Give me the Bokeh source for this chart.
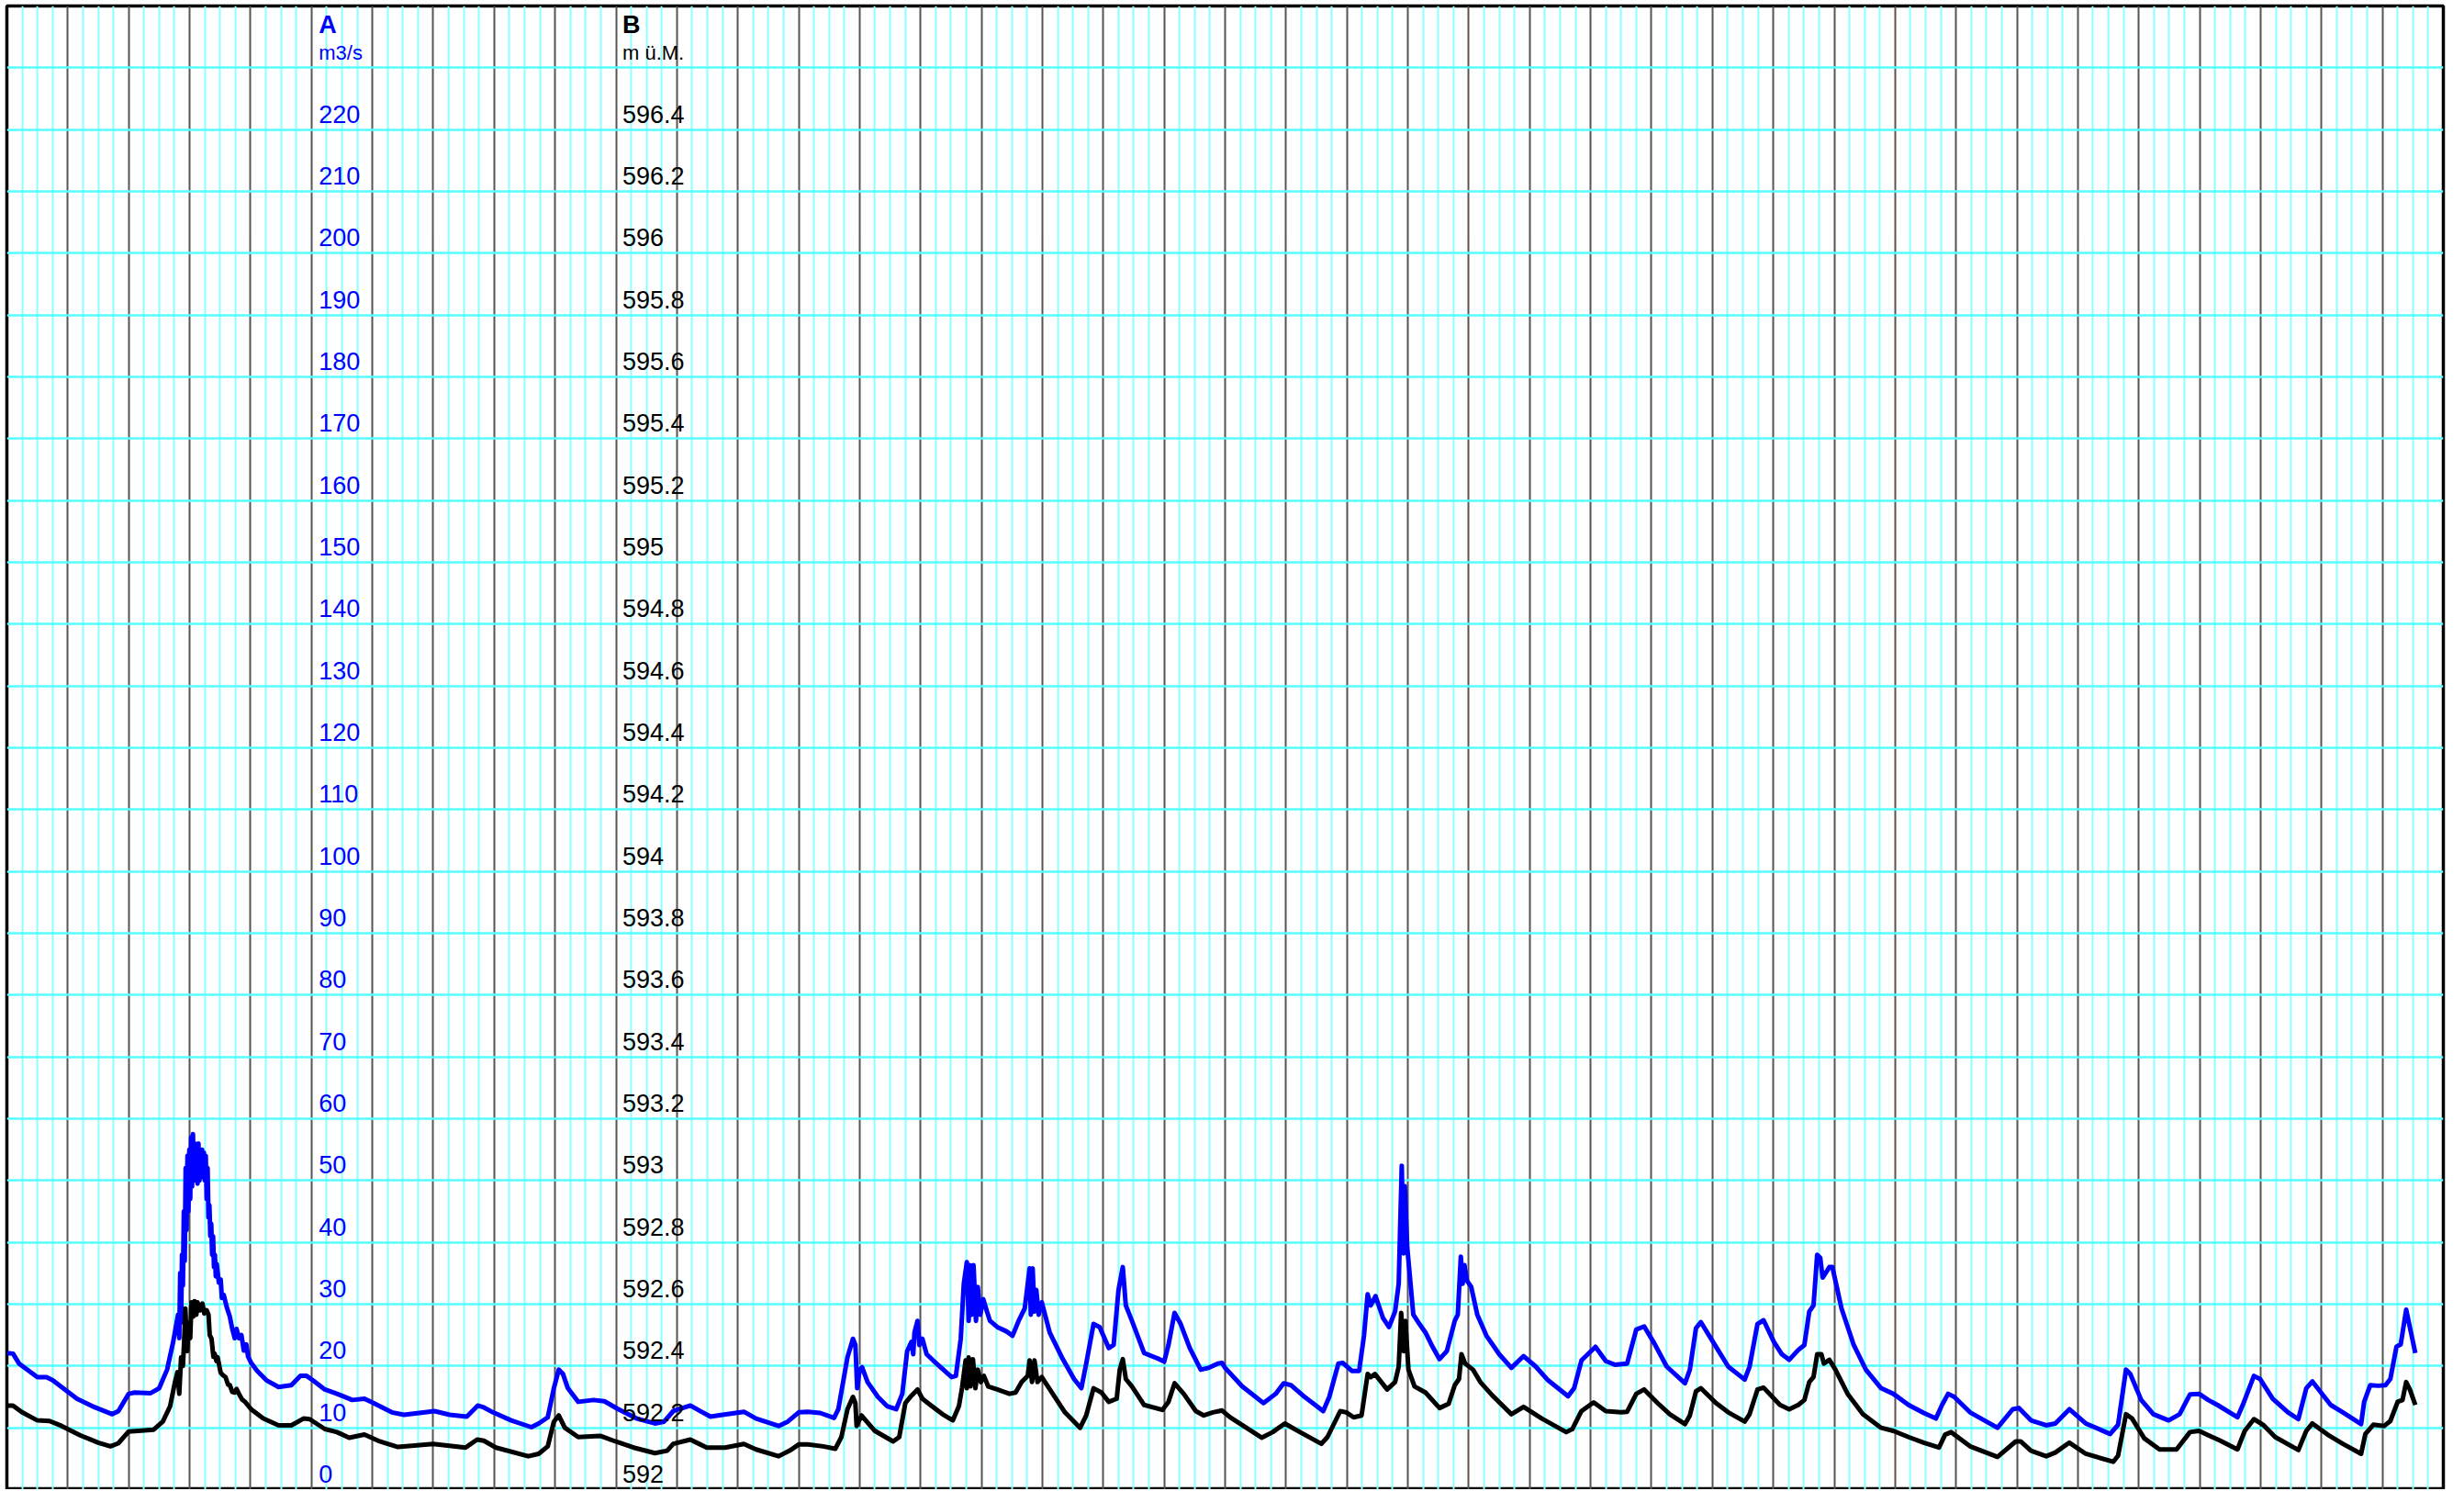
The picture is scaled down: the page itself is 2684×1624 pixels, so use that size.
from bokeh.plotting import figure
from bokeh.models import ColumnDataSource, Range1d, Grid, FixedTicker
from bokeh.core.properties import value
from bokeh.embed import file_html
from bokeh.resources import INLINE

# ---- data (x = day index on the chart, 0..40) ----
flow_day = [0.0, 0.1, 0.2, 0.5, 0.65, 0.75, 1.15, 1.4, 1.73, 1.83, 2.0, 2.1, 2.36, 2.5, 2.63, 2.73, 2.81,
            2.83, 2.845, 2.86, 2.875, 2.89, 2.905, 2.92, 2.935, 2.95, 2.965, 2.98, 2.995, 3.01, 3.025, 3.04,
            3.055, 3.07, 3.085, 3.1, 3.115, 3.13, 3.145, 3.16, 3.175, 3.19, 3.205, 3.22, 3.235, 3.25, 3.265,
            3.28, 3.295, 3.31, 3.325, 3.34, 3.355, 3.37, 3.385, 3.4, 3.415, 3.43, 3.445, 3.48, 3.51, 3.53, 3.56,
            3.61, 3.66, 3.7,
            3.74, 3.77, 3.81, 3.85, 3.89, 3.93, 3.96, 4.01, 4.11, 4.26, 4.46, 4.67, 4.82, 4.92, 5.02, 5.22, 5.42,
            5.67, 5.87, 6.02, 6.32, 6.52, 6.77, 7.02, 7.27, 7.55, 7.73, 7.83, 7.98, 8.28, 8.61, 8.73, 8.88, 8.98,
            9.06, 9.13, 9.21, 9.38, 9.63, 9.81, 10.04, 10.34, 10.64, 10.79, 10.94, 11.22, 11.55, 11.75, 12.1,
            12.3, 12.67, 12.82, 13.0, 13.15, 13.35, 13.58, 13.65, 13.8, 13.89, 13.93, 13.96, 14.0, 14.04, 14.13,
            14.3, 14.45, 14.6, 14.7, 14.78, 14.85, 14.88, 14.9, 14.95, 14.98, 15.03, 15.1, 15.26, 15.51, 15.58,
            15.66, 15.71, 15.76, 15.79, 15.81, 15.84, 15.87, 15.91, 15.94, 15.98, 16.03, 16.09, 16.14, 16.26,
            16.41, 16.51, 16.61, 16.71, 16.76, 16.79, 16.81, 16.84, 16.87, 16.9, 16.94, 16.99, 17.12, 17.32,
            17.52, 17.64, 17.72, 17.84, 17.94, 18.09, 18.17, 18.25, 18.32, 18.37, 18.47, 18.67, 18.92, 19.0,
            19.07, 19.17, 19.27, 19.42, 19.6, 19.73, 19.88, 19.95, 20.0, 20.28, 20.63, 20.83, 20.96, 21.08,
            21.28, 21.61, 21.71, 21.86, 21.93, 22.08, 22.2, 22.28, 22.34, 22.39, 22.47, 22.59, 22.69, 22.79,
            22.85, 22.9, 22.93, 22.95, 22.99, 23.09, 23.19, 23.29, 23.39, 23.52, 23.64, 23.77, 23.82, 23.87,
            23.9, 23.93, 23.97, 24.04, 24.14, 24.29, 24.5, 24.7, 24.9, 25.1, 25.3, 25.63, 25.73, 25.85, 26.08,
            26.25, 26.4, 26.6, 26.75, 26.88, 27.05, 27.25, 27.55, 27.63, 27.73, 27.81, 28.01, 28.26, 28.53,
            28.61, 28.74, 28.84, 29.01, 29.14, 29.26, 29.41, 29.51, 29.59, 29.66, 29.72, 29.77, 29.81, 29.87,
            29.92, 29.97, 30.12, 30.32, 30.52, 30.77, 30.97, 31.22, 31.47, 31.67, 31.77, 31.87, 31.97, 32.23,
            32.68, 32.93, 33.03, 33.23, 33.48, 33.63, 33.86, 34.13, 34.53, 34.66, 34.79, 34.86, 35.04, 35.24,
            35.49, 35.67, 35.84, 35.99, 36.14, 36.29, 36.62, 36.72, 36.89, 36.99, 37.2, 37.45, 37.62, 37.75,
            37.85, 38.15, 38.35, 38.65, 38.7, 38.8, 38.93, 39.05, 39.13, 39.23, 39.3, 39.39, 39.45, 39.54]
flow_m3s = [22.1, 22.0, 20.4, 18.2, 18.2, 17.7, 14.7, 13.5, 12.2, 12.7, 15.5, 15.7, 15.6, 16.4, 19.4, 23.9, 28.3,
            24.5, 35.0, 27.0, 38.0, 33.0, 45.0, 37.0, 52.0, 42.0, 54.0, 45.0, 55.0, 47.0, 57.0, 49.0,
            57.5, 50.0, 56.0, 50.0, 55.5, 49.5, 56.0, 50.0, 55.0, 50.5, 55.0, 51.0, 54.5, 50.0, 54.0,
            47.0, 52.0, 44.0, 46.0, 41.0, 43.0, 38.0, 41.0, 36.0, 38.0, 34.5, 36.5, 33.5, 34.0, 31.0, 31.5,
            29.5, 28.0, 26.0,
            24.5, 26.0, 24.5, 25.0, 22.5, 23.5, 21.5, 20.5, 19.2, 17.7, 16.6, 16.9, 18.4, 18.4, 17.7, 16.2, 15.5,
            14.5, 14.7, 14.0, 12.5, 12.1, 12.4, 12.7, 12.1, 11.8, 13.6, 13.3, 12.5, 11.2, 10.1, 10.7, 11.7, 16.4,
            19.4, 18.7, 16.4, 14.2, 14.5, 14.3, 13.0, 11.5, 10.7, 11.0, 12.7, 13.6, 11.8, 12.1, 12.6,
            11.5, 10.3, 11.0, 12.5, 12.6, 12.4, 11.6, 13.0, 21.4, 24.4, 23.4, 16.4, 19.4, 19.8, 17.4,
            15.0, 13.5, 13.0, 15.5, 22.4, 23.9, 21.9, 25.4, 27.3, 23.4, 24.4, 21.9, 20.4, 18.2, 18.4,
            24.4, 33.3, 36.8, 27.3, 36.3, 28.3, 36.3, 27.3, 32.8, 28.3, 30.8, 28.8, 27.3, 26.3,
            25.6, 24.9, 27.3, 29.3, 33.3, 35.8, 28.3, 35.8, 28.8, 32.3, 28.3, 30.3, 25.4, 21.4,
            17.9, 16.4, 20.4, 26.8, 26.3, 22.9, 23.4, 32.3, 36.0, 29.8, 27.3, 22.1, 21.1, 20.7,
            23.4, 28.6, 26.8, 22.9, 19.4, 19.7, 20.4, 20.5, 19.7, 16.7, 14.0, 15.5, 17.2, 16.9,
            15.2, 12.7, 15.0, 20.4, 20.5, 19.2, 19.2, 24.9, 31.6, 29.8, 31.3, 27.8, 26.3, 28.8,
            33.3, 52.4, 38.2, 49.1, 39.2, 28.3, 26.8, 25.4, 23.4, 21.1, 22.4, 27.3, 28.3, 37.7,
            33.3, 36.3, 33.8, 32.8, 28.3, 24.9, 21.9, 19.7, 21.6, 19.9, 17.7, 15.1, 16.4, 20.9, 23.1,
            20.8, 20.2, 20.4, 25.9, 26.4, 23.6, 19.9, 17.2, 19.4, 26.1, 27.1, 23.9, 19.9, 17.8,
            19.9, 26.8, 27.4, 23.9, 21.9, 21.0, 22.6, 23.4, 28.8, 29.8, 38.0, 37.5, 34.3, 35.2,
            36.0, 36.0, 29.3, 23.4, 19.4, 16.4, 15.5, 13.7, 12.4, 11.5, 13.7, 15.5, 15.0, 12.5,
            10.0, 13.0, 13.2, 11.2, 10.4, 10.7, 13.0, 10.7, 9.0, 10.5, 19.4, 18.7, 14.5, 12.2,
            11.2, 12.2, 15.4, 15.5, 14.5, 13.7, 11.7, 14.0, 18.4, 17.9, 14.7, 12.5, 11.4, 16.4,
            17.5, 13.7, 12.5, 10.6, 14.2, 16.9, 16.8, 16.9, 17.9, 23.1, 23.5, 29.1, 26.3, 22.1]

level_day = [0.0, 0.1, 0.25, 0.5, 0.7, 0.9, 1.2, 1.5, 1.7, 1.83, 2.0, 2.41, 2.56, 2.68, 2.76, 2.8, 2.83, 2.86, 2.89,
             2.91, 2.93, 2.96, 2.99, 3.01, 3.03, 3.06, 3.08, 3.11, 3.13, 3.17, 3.21, 3.24, 3.28, 3.31, 3.33, 3.36,
             3.39, 3.41, 3.44, 3.46, 3.51, 3.55, 3.59, 3.63, 3.66, 3.7, 3.74, 3.77, 3.81, 3.86, 3.91, 4.01, 4.21,
             4.46, 4.67, 4.87, 4.97, 5.22, 5.42, 5.62, 5.87, 6.12, 6.42, 7.0, 7.53, 7.72, 7.83, 8.03, 8.56, 8.73,
             8.88, 8.98, 9.06, 9.16, 9.38, 9.74, 9.99, 10.29, 10.64, 10.84, 10.94, 11.22, 11.49, 11.79, 12.1,
             12.3, 12.67, 12.85, 13.0, 13.15, 13.4, 13.6, 13.7, 13.8, 13.89, 13.93, 13.95, 14.03, 14.1, 14.25,
             14.55, 14.65, 14.75, 14.85, 14.95, 15.03, 15.16, 15.36, 15.53, 15.63, 15.68, 15.74, 15.76, 15.79,
             15.82, 15.86, 15.9, 15.94, 15.99, 16.04, 16.11, 16.26, 16.46, 16.56, 16.66, 16.76, 16.79, 16.83,
             16.87, 16.92, 16.99, 17.17, 17.37, 17.62, 17.72, 17.84, 17.97, 18.09, 18.22, 18.27, 18.32, 18.37,
             18.47, 18.67, 18.97, 19.07, 19.17, 19.32, 19.52, 19.65, 19.8, 19.95, 20.08, 20.6, 20.78, 20.98,
             21.23, 21.58, 21.68, 21.89, 21.99, 22.11, 22.24, 22.34, 22.39, 22.46, 22.66, 22.79, 22.85, 22.89,
             22.93, 22.96, 23.01, 23.11, 23.29, 23.52, 23.67, 23.77, 23.84, 23.88, 23.94, 24.07, 24.19, 24.39,
             24.7, 24.9, 25.2, 25.6, 25.7, 25.85, 26.05, 26.25, 26.5, 26.6, 26.75, 26.88, 27.1, 27.3, 27.55,
             27.63, 27.73, 27.81, 28.06, 28.26, 28.53, 28.61, 28.74, 28.84, 29.11, 29.26, 29.41, 29.51, 29.59,
             29.66, 29.72, 29.79, 29.83, 29.92, 30.02, 30.22, 30.47, 30.77, 30.97, 31.22, 31.47, 31.72, 31.82,
             31.92, 32.23, 32.68, 32.98, 33.06, 33.23, 33.48, 33.63, 33.86, 34.13, 34.58, 34.66, 34.79, 34.89,
             35.09, 35.34, 35.62, 35.84, 35.99, 36.14, 36.34, 36.62, 36.74, 36.89, 37.04, 37.24, 37.62, 37.75,
             37.85, 38.1, 38.35, 38.65, 38.72, 38.85, 39.03, 39.13, 39.25, 39.33, 39.39, 39.45, 39.54]
level_m = [592.272, 592.272, 592.25, 592.224, 592.222, 592.206, 592.176, 592.152, 592.14, 592.15, 592.188, 592.194,
           592.22, 592.27, 592.348, 592.38, 592.31, 592.428, 592.40, 592.48, 592.586, 592.448, 592.54, 592.49,
           592.606, 592.56, 592.61, 592.566, 592.606, 592.58, 592.602, 592.57, 592.58, 592.566, 592.50, 592.488,
           592.43, 592.44, 592.416, 592.428, 592.378, 592.37, 592.364, 592.34, 592.338, 592.316, 592.314,
           592.326, 592.31, 592.292, 592.284, 592.26, 592.23, 592.208, 592.208, 592.23, 592.228, 592.196,
           592.186, 592.168, 592.178, 592.156, 592.138, 592.148, 592.136, 592.162, 592.158, 592.136, 592.108,
           592.116, 592.14, 592.22, 592.24, 592.20, 592.17, 592.174, 592.156, 592.136, 592.118, 592.126,
           592.148, 592.162, 592.136, 592.136, 592.148, 592.13, 592.108, 592.126, 592.146, 592.146, 592.14,
           592.132, 592.17, 592.26, 592.30, 592.28, 592.206, 592.24, 592.224, 592.19, 592.156, 592.17, 592.28,
           592.304, 592.324, 592.294, 592.274, 592.244, 592.224, 592.27, 592.328, 592.418, 592.328, 592.428,
           592.334, 592.422, 592.328, 592.388, 592.348, 592.368, 592.334, 592.324, 592.31, 592.314, 592.348,
           592.368, 592.418, 592.348, 592.418, 592.348, 592.364, 592.31, 592.25, 592.20, 592.24, 592.328,
           592.314, 592.284, 592.294, 592.388, 592.422, 592.358, 592.334, 592.274, 592.258, 592.284, 592.344,
           592.31, 592.254, 592.24, 592.25, 592.256, 592.234, 592.168, 592.186, 592.214, 592.186, 592.148,
           592.17, 592.254, 592.25, 592.234, 592.24, 592.374, 592.364, 592.374, 592.324, 592.348, 592.398,
           592.572, 592.448, 592.546, 592.388, 592.334, 592.314, 592.264, 592.278, 592.338, 592.358, 592.438,
           592.408, 592.388, 592.348, 592.304, 592.244, 592.268, 592.23, 592.186, 592.196, 592.254, 592.282,
           592.254, 592.25, 592.252, 592.31, 592.324, 592.28, 592.244, 592.212, 592.24, 592.318, 592.328,
           592.28, 592.25, 592.22, 592.244, 592.324, 592.33, 592.274, 592.26, 592.274, 592.29, 592.348,
           592.364, 592.438, 592.438, 592.408, 592.42, 592.388, 592.31, 592.244, 592.20, 592.19, 592.17,
           592.152, 592.136, 592.178, 592.186, 592.14, 592.106, 592.156, 592.156, 592.126, 592.108, 592.12,
           592.152, 592.116, 592.09, 592.11, 592.244, 592.23, 592.166, 592.13, 592.13, 592.186, 592.19,
           592.176, 592.158, 592.13, 592.19, 592.228, 592.21, 592.17, 592.128, 592.19, 592.214, 592.178,
           592.148, 592.116, 592.18, 592.21, 592.206, 592.222, 592.284, 592.29, 592.348, 592.324, 592.274]

flow_ticks = [0, 10, 20, 30, 40, 50, 60, 70, 80, 90, 100, 110, 120, 130, 140, 150, 160, 170, 180, 190, 200, 210, 220]
level_ticks = [592.0, 592.2, 592.4, 592.6, 592.8, 593.0, 593.2, 593.4, 593.6, 593.8, 594.0, 594.2, 594.4, 594.6,
               594.8, 595.0, 595.2, 595.4, 595.6, 595.8, 596.0, 596.2, 596.4]
level_tick_labels = ["592", "592.2", "592.4", "592.6", "592.8", "593", "593.2", "593.4", "593.6", "593.8", "594",
                     "594.2", "594.4", "594.6", "594.8", "595", "595.2", "595.4", "595.6", "595.8", "596", "596.2",
                     "596.4"]
flow_name, flow_unit = "A", "m3/s"
level_name, level_unit = "B", "m ü.M."

# ---- figure ----
X_MAX = 40
Y_MAX = 240
p = figure(width=2684, height=1622, x_range=Range1d(0, X_MAX), y_range=Range1d(0, Y_MAX),
           x_axis_location=None, y_axis_location=None, output_backend="svg", toolbar_location=None,
           min_border_left=7, min_border_top=6, min_border_right=23, min_border_bottom=0,
           background_fill_color="white", border_fill_color="white")
p.extra_y_ranges = {"level": Range1d(592.0, 592.0 + Y_MAX / 50.0)}
p.outline_line_color = "black"
p.outline_line_width = 3.5
for g in p.grid:
    g.visible = False

major_x = list(range(0, X_MAX + 1))
minor_x = [d + q for d in range(0, X_MAX) for q in (0.25, 0.5, 0.75)]
xgrid = Grid(dimension=0, ticker=FixedTicker(ticks=major_x, minor_ticks=minor_x),
             grid_line_color="#555555", grid_line_width=2,
             minor_grid_line_color="#8CFFFF", minor_grid_line_width=2)
ygrid = Grid(dimension=1, ticker=FixedTicker(ticks=list(range(0, Y_MAX + 1, 10))),
             grid_line_color="#55FFFF", grid_line_width=2.5)
p.add_layout(xgrid)
p.add_layout(ygrid)

p.line(flow_day, flow_m3s, line_color="#0000FF", line_width=5, line_join="round")
p.line(level_day, level_m, line_color="#000000", line_width=5, line_join="round", y_range_name="level")

# text is vertically centred on its anchor; negative y_offset lifts it above the grid line
FONT = value("Liberation Sans")
a_src = ColumnDataSource(dict(x=[5] * len(flow_ticks), y=flow_ticks, t=[str(v) for v in flow_ticks]))
p.text(x="x", y="y", text="t", source=a_src, text_color="#0000FF", text_font=FONT, text_font_size="27px",
       text_baseline="middle", text_align="left", x_offset=8, y_offset=-17)
b_src = ColumnDataSource(dict(x=[10] * len(level_ticks), y=level_ticks, t=level_tick_labels))
p.text(x="x", y="y", text="t", source=b_src, text_color="#000000", text_font=FONT, text_font_size="27px",
       text_baseline="middle", text_align="left", x_offset=7, y_offset=-17, y_range_name="level")

p.text(x=[5], y=[230], text=[flow_name], text_color="#0000FF", text_font=FONT, text_font_size="27px",
       text_font_style="bold", text_baseline="middle", x_offset=8, y_offset=-47)
p.text(x=[5], y=[230], text=[flow_unit], text_color="#0000FF", text_font=FONT, text_font_size="22px",
       text_baseline="middle", x_offset=8, y_offset=-16)
p.text(x=[10], y=[230], text=[level_name], text_color="#000000", text_font=FONT, text_font_size="27px",
       text_font_style="bold", text_baseline="middle", x_offset=7, y_offset=-47)
p.text(x=[10], y=[230], text=[level_unit], text_color="#000000", text_font=FONT, text_font_size="22px",
       text_baseline="middle", x_offset=7, y_offset=-16)

open("out.html", "w").write(file_html(p, INLINE))
